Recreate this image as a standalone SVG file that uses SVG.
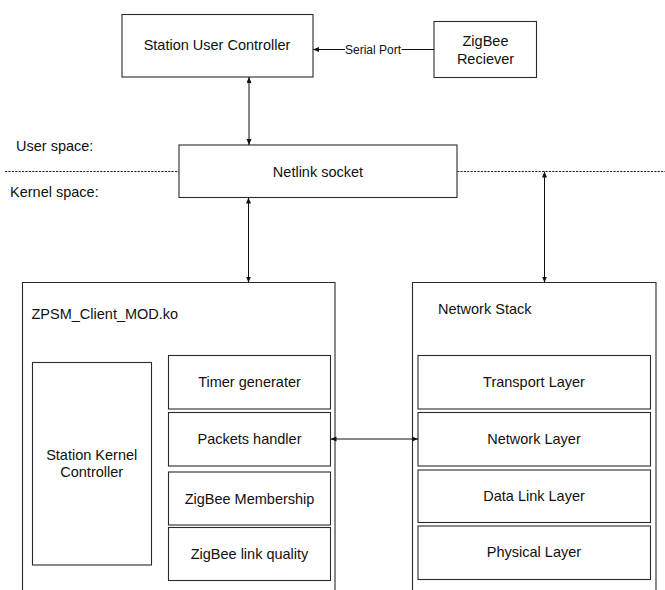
<svg xmlns="http://www.w3.org/2000/svg" width="665" height="590" viewBox="0 0 665 590">
<style>
  .box { fill: #ffffff; stroke: #2a2a2a; stroke-width: 1.1; }
  .open { fill: none; stroke: #2a2a2a; stroke-width: 1.1; }
  .t { font-family: "Liberation Sans", Arial, sans-serif; font-size: 14.5px; fill: #111; }
  .c { text-anchor: middle; }
  .small { font-size: 12px; }
  .ln { fill: none; stroke: #111; stroke-width: 1; }
  .dash { fill: none; stroke: #222; stroke-width: 1; stroke-dasharray: 2.2 1.2; }
</style>
<defs>
  <marker id="ah" markerUnits="userSpaceOnUse" markerWidth="7" markerHeight="6" refX="6" refY="2.5" orient="auto-start-reverse">
    <path d="M0,0 L6,2.5 L0,5 Z" fill="#111"/>
  </marker>
</defs>
<rect width="665" height="590" fill="#ffffff"/>

<g id="space-divider">
  <line class="dash" x1="5" y1="171.5" x2="179" y2="171.5"/>
  <line class="dash" x1="457" y1="171.5" x2="665" y2="171.5"/>
  <text class="t" x="16" y="151">User space:</text>
  <text class="t" x="10" y="197">Kernel space:</text>
</g>

<g id="station-user-controller">
  <rect class="box" x="122" y="14.5" width="191" height="62.5"/>
  <text class="t c" x="217" y="50">Station User Controller</text>
</g>

<g id="zigbee-reciever">
  <rect class="box" x="434" y="21.5" width="102.5" height="56"/>
  <text class="t c" x="485.5" y="46">ZigBee</text>
  <text class="t c" x="485.5" y="63.5">Reciever</text>
</g>

<g id="netlink-socket">
  <rect class="box" x="179" y="145" width="278" height="52.5"/>
  <text class="t c" x="318" y="177">Netlink socket</text>
</g>

<g id="zpsm-client-mod">
  <path class="open" d="M22.5,590 V282.5 H335 V590"/>
  <text class="t" x="31.5" y="319">ZPSM_Client_MOD.ko</text>
</g>

<g id="station-kernel-controller">
  <rect class="box" x="32.5" y="362.5" width="119" height="202.5"/>
  <text class="t c" x="91.7" y="460">Station Kernel</text>
  <text class="t c" x="91.7" y="477">Controller</text>
</g>

<g id="timer-generater">
  <rect class="box" x="168.5" y="355.5" width="162" height="53.5"/>
  <text class="t c" x="249.5" y="387">Timer generater</text>
</g>
<g id="packets-handler">
  <rect class="box" x="168.5" y="412.5" width="162" height="53.5"/>
  <text class="t c" x="249.5" y="444">Packets handler</text>
</g>
<g id="zigbee-membership">
  <rect class="box" x="168.5" y="472" width="162" height="53"/>
  <text class="t c" x="249.5" y="503.5">ZigBee Membership</text>
</g>
<g id="zigbee-link-quality">
  <rect class="box" x="168.5" y="527.5" width="162" height="53"/>
  <text class="t c" x="249.5" y="559">ZigBee link quality</text>
</g>

<g id="network-stack">
  <path class="open" d="M412.5,590 V282.5 H656 V590"/>
  <text class="t" x="438" y="314">Network Stack</text>
</g>
<g id="transport-layer">
  <rect class="box" x="418" y="355.5" width="232.5" height="53.5"/>
  <text class="t c" x="534" y="387">Transport Layer</text>
</g>
<g id="network-layer">
  <rect class="box" x="418" y="412.5" width="232.5" height="53.5"/>
  <text class="t c" x="534" y="444">Network Layer</text>
</g>
<g id="data-link-layer">
  <rect class="box" x="418" y="470" width="232.5" height="52.5"/>
  <text class="t c" x="534" y="501">Data Link Layer</text>
</g>
<g id="physical-layer">
  <rect class="box" x="418" y="526" width="232.5" height="53.5"/>
  <text class="t c" x="534" y="557">Physical Layer</text>
</g>

<g id="connectors">
  <line class="ln" x1="434" y1="49.5" x2="401.5" y2="49.5"/>
  <line class="ln" x1="345" y1="49.5" x2="313" y2="49.5" marker-end="url(#ah)"/>
  <text class="t small" x="345" y="53.5">Serial Port</text>
  <line class="ln" x1="249" y1="77" x2="249" y2="145" marker-start="url(#ah)" marker-end="url(#ah)"/>
  <line class="ln" x1="248.5" y1="197.5" x2="248.5" y2="282.5" marker-start="url(#ah)" marker-end="url(#ah)"/>
  <line class="ln" x1="544.5" y1="171.5" x2="544.5" y2="282.5" marker-start="url(#ah)" marker-end="url(#ah)"/>
  <line class="ln" x1="330.5" y1="439" x2="418" y2="439" marker-start="url(#ah)" marker-end="url(#ah)"/>
</g>
</svg>
